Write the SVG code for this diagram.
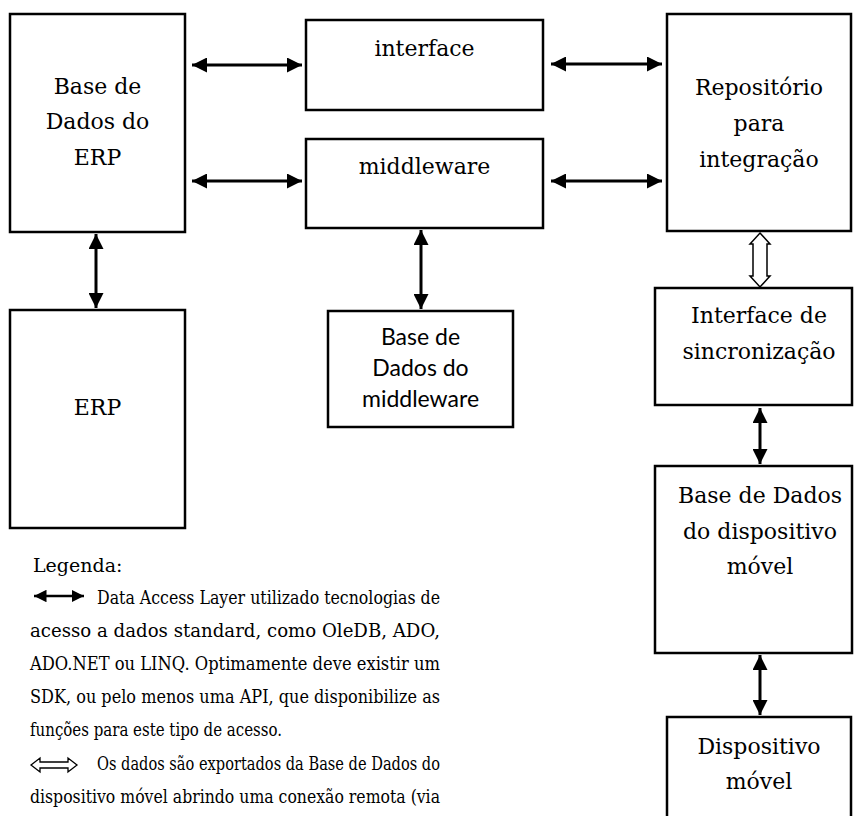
<svg xmlns="http://www.w3.org/2000/svg" width="856" height="816" viewBox="0 0 856 816">
<defs>
<marker id="ah" viewBox="0 0 10 10" refX="10" refY="5" markerWidth="5" markerHeight="5" orient="auto-start-reverse" markerUnits="strokeWidth">
<path d="M0,0 L10,5 L0,10 Z" fill="#000"/>
</marker>
<style>
.box{fill:#fff;stroke:#000;stroke-width:2.5}
.t{font-family:'DejaVu Serif','Liberation Serif',serif;font-size:22px;fill:#000;text-anchor:middle}
.c{font-family:Lato,'Open Sans',sans-serif;font-size:23px;fill:#000;text-anchor:middle}
.lg{font-family:'DejaVu Serif','Liberation Serif',serif;font-size:19px;fill:#000}
.ar{stroke:#000;stroke-width:3;fill:none;marker-start:url(#ah);marker-end:url(#ah)}
</style>
</defs>
<rect width="856" height="816" fill="#fff"/>
<g id="connectors">
<line class="ar" x1="192" y1="65" x2="302" y2="65"/>
<line class="ar" x1="192" y1="181" x2="302" y2="181"/>
<line class="ar" x1="551" y1="64" x2="662" y2="64"/>
<line class="ar" x1="551" y1="181" x2="662" y2="181"/>
<line class="ar" x1="96" y1="234" x2="96" y2="308"/>
<line class="ar" x1="421" y1="230" x2="421" y2="309"/>
<line class="ar" x1="760" y1="408" x2="760" y2="464"/>
<line class="ar" x1="760" y1="655" x2="760" y2="715"/>
<path d="M760,233 L770,244 L767,244 L767,276 L770,276 L760,287 L750,276 L753,276 L753,244 L750,244 Z" fill="#fff" stroke="#000" stroke-width="1.5"/>
</g>
<g id="erp-db">
<rect class="box" x="10" y="14" width="175" height="218"/>
<text class="t" x="97.5" y="94">Base de</text>
<text class="t" x="97.5" y="129">Dados do</text>
<text class="t" x="97.5" y="165">ERP</text>
</g>
<g id="erp">
<rect class="box" x="10" y="310" width="175" height="218"/>
<text class="t" x="97.5" y="415">ERP</text>
</g>
<g id="interface">
<rect class="box" x="306" y="20" width="237" height="90"/>
<text class="t" x="424.5" y="56">interface</text>
</g>
<g id="middleware">
<rect class="box" x="306" y="139" width="237" height="89"/>
<text class="t" x="424.5" y="174">middleware</text>
</g>
<g id="middleware-db">
<rect class="box" x="328" y="311" width="185" height="116"/>
<text class="c" x="420.5" y="345">Base de</text>
<text class="c" x="420.5" y="376">Dados do</text>
<text class="c" x="420.5" y="407">middleware</text>
</g>
<g id="repositorio">
<rect class="box" x="667" y="14" width="184" height="217"/>
<text class="t" x="759" y="95">Repositório</text>
<text class="t" x="759" y="131">para</text>
<text class="t" x="759" y="167">integração</text>
</g>
<g id="sync">
<rect class="box" x="655" y="288" width="197" height="117"/>
<text class="t" x="759" y="323">Interface de</text>
<text class="t" x="759" y="359">sincronização</text>
</g>
<g id="mobile-db">
<rect class="box" x="655" y="466" width="197" height="187"/>
<text class="t" x="760" y="503">Base de Dados</text>
<text class="t" x="760" y="539">do dispositivo</text>
<text class="t" x="760" y="574">móvel</text>
</g>
<g id="mobile">
<rect class="box" x="667" y="717" width="184" height="120"/>
<text class="t" x="759" y="754">Dispositivo</text>
<text class="t" x="759" y="789">móvel</text>
</g>
<g id="legend">
<text class="lg" x="33" y="572">Legenda:</text>
<line x1="34" y1="596" x2="84" y2="596" stroke="#000" stroke-width="2.5" marker-start="url(#ah)" marker-end="url(#ah)"/>
<text class="lg" x="97" y="604" textLength="343" lengthAdjust="spacingAndGlyphs">Data Access Layer utilizado tecnologias de</text>
<text class="lg" x="30" y="637" textLength="410" lengthAdjust="spacingAndGlyphs">acesso a dados standard, como OleDB, ADO,</text>
<text class="lg" x="30" y="670" textLength="410" lengthAdjust="spacingAndGlyphs">ADO.NET ou LINQ. Optimamente deve existir um</text>
<text class="lg" x="30" y="703" textLength="410" lengthAdjust="spacingAndGlyphs">SDK, ou pelo menos uma API, que disponibilize as</text>
<text class="lg" x="30" y="736" textLength="252" lengthAdjust="spacingAndGlyphs">funções para este tipo de acesso.</text>
<path d="M31,765 L40,758 L40,762 L68,762 L68,758 L77,765 L68,772 L68,768 L40,768 L40,772 Z" fill="#fff" stroke="#000" stroke-width="1.3"/>
<text class="lg" x="97" y="770" textLength="343" lengthAdjust="spacingAndGlyphs">Os dados são exportados da Base de Dados do</text>
<text class="lg" x="30" y="803" textLength="410" lengthAdjust="spacingAndGlyphs">dispositivo móvel abrindo uma conexão remota (via</text>
</g>
</svg>
